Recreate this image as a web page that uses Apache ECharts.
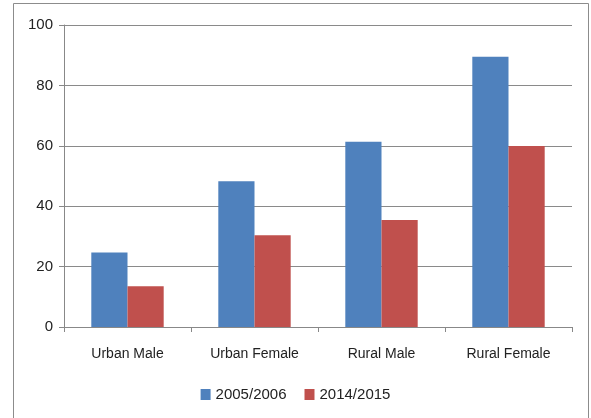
<!DOCTYPE html>
<html><head><meta charset="utf-8">
<script src="https://cdn.jsdelivr.net/npm/echarts@6/dist/echarts.min.js"></script>
<style>html,body{margin:0;padding:0;background:#fff}#c{width:591px;height:418px}</style>
</head><body><div id="c"></div>
<script>
const categories = ["Urban Male", "Urban Female", "Rural Male", "Rural Female"];
const series2005 = [24.7, 48.3, 61.3, 89.5];
const series2014 = [13.5, 30.4, 35.4, 59.9];
const seriesNames = ["2005/2006", "2014/2015"];
const yTicks = [0, 20, 40, 60, 80, 100];

const font = "'Liberation Sans', sans-serif";
const chart = echarts.init(document.getElementById('c'), null, {renderer: 'canvas'});
chart.setOption({
  animation: false,
  backgroundColor: '#fff',
  graphic: [{
    type: 'rect', shape: {x: 13.5, y: 3.5, width: 575, height: 420},
    style: {fill: 'none', stroke: '#8c8c8c', lineWidth: 1}, silent: true
  }],
  grid: {left: 64, right: 19, top: 25, bottom: 91},
  legend: {
    data: seriesNames, bottom: 11, left: 'center', itemWidth: 10, itemHeight: 11, itemGap: 18,
    icon: 'rect', textStyle: {fontFamily: font, fontSize: 15, color: '#222'}
  },
  xAxis: {
    type: 'category', data: categories,
    axisLine: {lineStyle: {color: '#888', width: 1}},
    axisTick: {show: true, alignWithLabel: false, length: 5, lineStyle: {color: '#888'}},
    axisLabel: {fontFamily: font, fontSize: 14, color: '#222', margin: 20}
  },
  yAxis: {
    type: 'value', min: yTicks[0], max: yTicks[yTicks.length - 1], interval: 20,
    axisLine: {show: true, lineStyle: {color: '#888', width: 1}},
    axisTick: {show: true, length: 5, lineStyle: {color: '#888'}},
    splitLine: {lineStyle: {color: '#8a8a8a', width: 1}},
    axisLabel: {fontFamily: font, fontSize: 15, color: '#222', margin: 11}
  },
  series: [
    {name: seriesNames[0], type: 'bar', data: series2005, barWidth: '28.5%', barGap: '0%',
     itemStyle: {color: '#4f81bd'}},
    {name: seriesNames[1], type: 'bar', data: series2014, barWidth: '28.5%',
     itemStyle: {color: '#c0504d'}}
  ]
});
</script></body></html>
